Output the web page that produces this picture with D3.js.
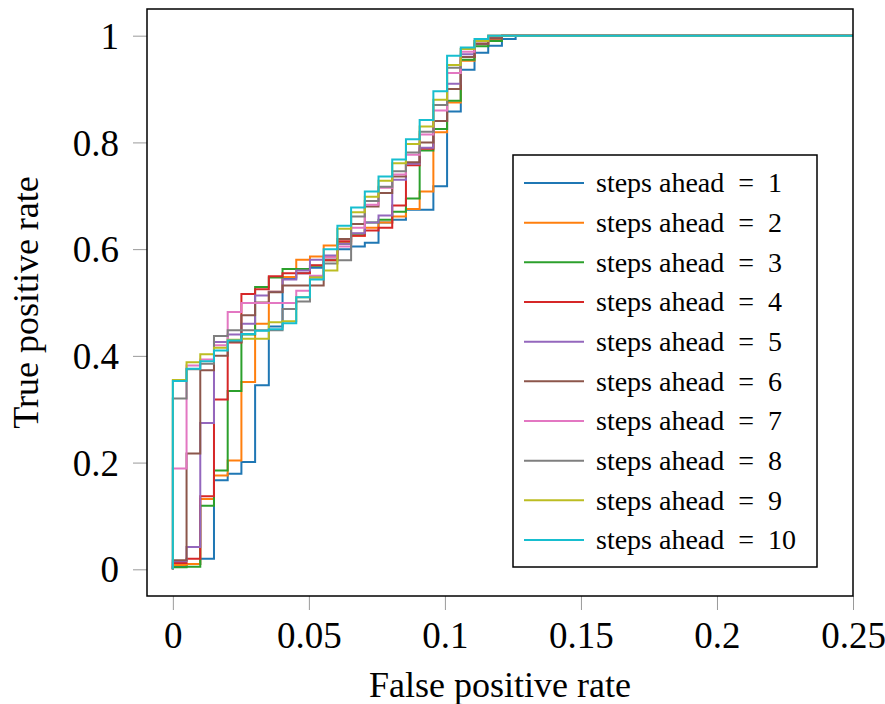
<!DOCTYPE html>
<html>
<head>
<meta charset="utf-8">
<script src="https://cdn.jsdelivr.net/npm/d3@7"></script>
<style>
  body { margin: 0; background: #fff; }
  text { font-family: "Liberation Serif", "Times New Roman", serif; }
</style>
</head>
<body>
<script>
// false positive rate thresholds (one step per negative sample)
var fpr = [0, 0.00504, 0.01008, 0.01512, 0.02016, 0.0252, 0.03024, 0.03528, 0.04032, 0.04536,
           0.0504, 0.05544, 0.06048, 0.06552, 0.07056, 0.0756, 0.08064, 0.08568, 0.09072, 0.09576,
           0.1008, 0.10584, 0.11088, 0.11592, 0.12096, 0.126];

// true positive rate per horizon, read at each fpr step
var tpr1  = [0.005, 0.01, 0.02, 0.167, 0.179, 0.201, 0.345, 0.455, 0.545, 0.555, 0.565, 0.585, 0.600, 0.605, 0.612, 0.650, 0.655, 0.674, 0.674, 0.718, 0.858, 0.936, 0.968, 0.981, 0.994, 1];
var tpr2  = [0.008, 0.01, 0.132, 0.176, 0.204, 0.351, 0.460, 0.520, 0.548, 0.580, 0.586, 0.607, 0.612, 0.625, 0.640, 0.650, 0.661, 0.675, 0.708, 0.819, 0.875, 0.953, 0.984, 0.993, 1, 1];
var tpr3  = [0.004, 0.005, 0.119, 0.185, 0.334, 0.440, 0.529, 0.547, 0.563, 0.563, 0.569, 0.579, 0.610, 0.629, 0.650, 0.655, 0.670, 0.695, 0.785, 0.825, 0.878, 0.955, 0.980, 0.990, 1, 1];
var tpr4  = [0.012, 0.02, 0.137, 0.318, 0.425, 0.516, 0.525, 0.549, 0.555, 0.555, 0.570, 0.579, 0.615, 0.625, 0.635, 0.640, 0.682, 0.757, 0.788, 0.840, 0.900, 0.960, 0.985, 0.995, 1, 1];
var tpr5  = [0.015, 0.042, 0.274, 0.426, 0.440, 0.460, 0.513, 0.520, 0.543, 0.560, 0.580, 0.588, 0.610, 0.630, 0.650, 0.663, 0.730, 0.760, 0.790, 0.840, 0.910, 0.965, 0.985, 0.995, 1, 1];
var tpr6  = [0.017, 0.217, 0.373, 0.400, 0.426, 0.476, 0.500, 0.519, 0.532, 0.532, 0.532, 0.585, 0.619, 0.647, 0.680, 0.705, 0.736, 0.763, 0.800, 0.840, 0.900, 0.960, 0.985, 0.995, 1, 1];
var tpr7  = [0.189, 0.382, 0.393, 0.420, 0.482, 0.499, 0.499, 0.499, 0.499, 0.522, 0.550, 0.585, 0.605, 0.640, 0.683, 0.715, 0.740, 0.777, 0.815, 0.860, 0.930, 0.970, 0.990, 1, 1, 1];
var tpr8  = [0.320, 0.375, 0.385, 0.437, 0.448, 0.448, 0.448, 0.448, 0.488, 0.502, 0.547, 0.573, 0.579, 0.661, 0.690, 0.717, 0.746, 0.781, 0.820, 0.870, 0.940, 0.975, 0.990, 1, 1, 1];
var tpr9  = [0.355, 0.388, 0.403, 0.415, 0.430, 0.432, 0.432, 0.463, 0.465, 0.510, 0.547, 0.560, 0.638, 0.669, 0.698, 0.728, 0.761, 0.797, 0.830, 0.880, 0.945, 0.975, 0.990, 1, 1, 1];
var tpr10 = [0.353, 0.376, 0.390, 0.410, 0.429, 0.441, 0.447, 0.450, 0.461, 0.510, 0.543, 0.600, 0.644, 0.678, 0.708, 0.736, 0.768, 0.806, 0.842, 0.896, 0.9625, 0.978, 0.994, 1, 1, 1];

var stepsAhead = [1, 2, 3, 4, 5, 6, 7, 8, 9, 10];
var allTpr = [tpr1, tpr2, tpr3, tpr4, tpr5, tpr6, tpr7, tpr8, tpr9, tpr10];

var xTicks = [0, 0.05, 0.1, 0.15, 0.2, 0.25];
var yTicks = [0, 0.2, 0.4, 0.6, 0.8, 1];

drawChart();

function drawChart() {
    var w = 885, h = 704;
    var pLeft = 147, pTop = 9, pRight = 853, pBottom = 596;

    var color = d3.scaleOrdinal(d3.schemeCategory10);

    var x = d3.scaleLinear().domain([-0.0095, 0.25]).range([pLeft, pRight]);
    var y = d3.scaleLinear().domain([-0.05, 1.05]).range([pBottom, pTop]);

    var svg = d3.select("body").append("svg")
        .attr("width", w)
        .attr("height", h);

    svg.append("defs").append("clipPath").attr("id", "plotclip")
        .append("rect")
        .attr("x", pLeft).attr("y", pTop)
        .attr("width", pRight - pLeft).attr("height", pBottom - pTop);

    // axes, ticks outside in grey
    var xAxis = svg.append("g")
        .attr("transform", "translate(0," + pBottom + ")")
        .call(d3.axisBottom(x).tickValues(xTicks).tickSize(14).tickPadding(12)
            .tickFormat(function (d) { return String(d); }));
    var yAxis = svg.append("g")
        .attr("transform", "translate(" + pLeft + ",0)")
        .call(d3.axisLeft(y).tickValues(yTicks).tickSize(14).tickPadding(14)
            .tickFormat(function (d) { return String(d); }));

    [xAxis, yAxis].forEach(function (g) {
        g.select(".domain").remove();
        g.selectAll(".tick line").attr("stroke", "#9a9a9a").attr("stroke-width", 1);
        g.selectAll(".tick text")
            .attr("fill", "#000")
            .style("font-family", "'Liberation Serif', 'Times New Roman', serif")
            .style("font-size", "37px");
    });
    yAxis.selectAll(".tick text").attr("dy", "0.34em");

    var line = d3.line()
        .x(function (d) { return x(d[0]); })
        .y(function (d) { return y(d[1]); })
        .curve(d3.curveStepAfter);

    var plot = svg.append("g").attr("clip-path", "url(#plotclip)");

    allTpr.forEach(function (tpr, i) {
        var pts = [[0, 0]];
        for (var k = 0; k < fpr.length; k++) {
            pts.push([fpr[k], tpr[k]]);
        }
        pts.push([0.25, 1]);
        plot.append("path")
            .attr("d", line(pts))
            .attr("fill", "none")
            .attr("stroke", color(i))
            .attr("stroke-width", 2);
    });

    // frame
    svg.append("rect")
        .attr("x", pLeft).attr("y", pTop)
        .attr("width", pRight - pLeft).attr("height", pBottom - pTop)
        .attr("fill", "none")
        .attr("stroke", "#000")
        .attr("stroke-width", 1.5);

    // axis labels
    svg.append("text")
        .attr("x", (pLeft + pRight) / 2)
        .attr("y", 697)
        .attr("text-anchor", "middle")
        .style("font-size", "36px")
        .text("False positive rate");

    svg.append("text")
        .attr("transform", "translate(38," + ((pTop + pBottom) / 2) + ") rotate(-90)")
        .attr("text-anchor", "middle")
        .style("font-size", "36px")
        .text("True positive rate");

    // legend
    var legend = svg.append("g");
    legend.append("rect")
        .attr("x", 513).attr("y", 155)
        .attr("width", 304).attr("height", 412)
        .attr("fill", "#fff")
        .attr("stroke", "#000")
        .attr("stroke-width", 1.5);

    var rowY = d3.scaleLinear().domain([0, 9]).range([183, 540]);
    stepsAhead.forEach(function (s, i) {
        var yy = rowY(i);
        legend.append("line")
            .attr("x1", 524).attr("x2", 584)
            .attr("y1", yy).attr("y2", yy)
            .attr("stroke", color(i))
            .attr("stroke-width", 2);
        legend.append("text")
            .attr("x", 596)
            .attr("y", yy)
            .attr("dy", "0.33em")
            .style("font-size", "28px")
            .text("steps ahead\u2002=\u2002" + s);
    });
}
</script>
</body>
</html>
